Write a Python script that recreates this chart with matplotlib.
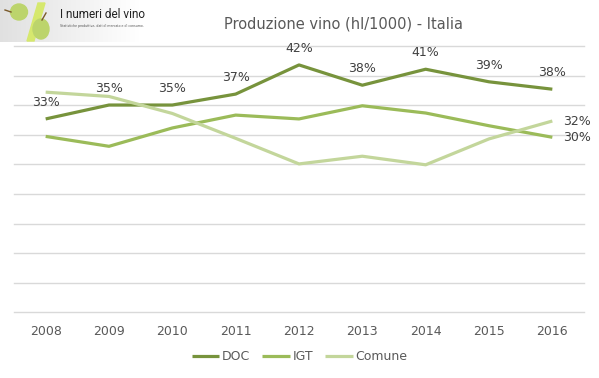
import numpy as np
import matplotlib.pyplot as plt
from matplotlib.patches import Ellipse, Polygon

anni = ['2008', '2009', '2010', '2011', '2012', '2013', '2014', '2015', '2016']
doc = [13070, 14010, 14010, 14750, 16720, 15350, 16430, 15580, 15080]
igt = [11890, 11220, 12460, 13330, 13070, 13960, 13470, 12610, 11830]
comune = [14880, 14590, 13440, 11760, 10030, 10550, 9970, 11720, 12930]
etichette_doc = ['33%', '35%', '35%', '37%', '42%', '38%', '41%', '39%', '38%']
etichetta_igt = '30%'
etichetta_comune = '32%'

col_doc = '#77933C'
col_igt = '#9BBB59'
col_comune = '#C3D69B'
grigio = '#595959'

plt.rcParams['font.family'] = ['DejaVu Sans']

fig = plt.figure(figsize=(5.99, 3.78), dpi=100)
ax = fig.add_axes([14/599, 1 - 312.3/378, 570/599, (312.3 - 46)/378])

x = np.arange(len(anni))
ax.plot(x, doc, color=col_doc, lw=2.3, label='DOC', solid_capstyle='butt')
ax.plot(x, igt, color=col_igt, lw=2.3, label='IGT', solid_capstyle='butt')
ax.plot(x, comune, color=col_comune, lw=2.3, label='Comune', solid_capstyle='butt')

# etichette percentuali
for xi, v, t in zip(x, doc, etichette_doc):
    ax.annotate(t, (xi, v), xytext=(0, 12), textcoords='offset points',
                ha='center', va='center', fontsize=9, color='#404040')
ax.annotate(etichetta_igt, (x[-1], igt[-1]), xytext=(8, 0), textcoords='offset points',
            ha='left', va='center', fontsize=9, color='#404040')
ax.annotate(etichetta_comune, (x[-1], comune[-1]), xytext=(8, 0), textcoords='offset points',
            ha='left', va='center', fontsize=9, color='#404040')

ax.set_xlim(-0.5, len(anni) - 0.5)
ax.set_ylim(0, 18000)
ax.set_yticks(np.arange(0, 18001, 2000))
ax.set_yticklabels([])
ax.set_xticks(x)
ax.set_xticklabels(anni, fontsize=9, color=grigio)
ax.tick_params(axis='both', length=0)
ax.tick_params(axis='x', pad=9)
ax.grid(axis='y', color='#D9D9D9', lw=1)
for gl in ax.get_ygridlines():
    gl.set_clip_on(False)
ax.set_axisbelow(True)
for s in ax.spines.values():
    s.set_visible(False)

fig.legend(loc='center', bbox_to_anchor=(0.5, 1 - 357/378), ncol=3, frameon=False,
           fontsize=9, handlelength=2.2, handletextpad=0.2, columnspacing=1.0,
           labelcolor=grigio)

fig.text(344/599, 1 - 24/378, 'Produzione vino (hl/1000) - Italia', ha='center', va='center',
         fontsize=10.5, color=grigio)

# logo in alto a sinistra
grad = np.linspace(0.88, 1.0, 140).reshape(1, -1)
fig.figimage(np.dstack([grad, grad, grad]).repeat(42, axis=0), xo=0, yo=378 - 42, zorder=0)
fig.add_artist(Polygon([[27/599, 1 - 41/378], [34/599, 1 - 41/378], [45/599, 1 - 3/378], [38/599, 1 - 3/378]],
                       closed=True, transform=fig.transFigure, color='#D6E86E'))
fig.add_artist(Ellipse((19/599, 1 - 12/378), 17/599, 16/378, transform=fig.transFigure, color='#BCD46C'))
fig.add_artist(Ellipse((41/599, 1 - 29/378), 16/599, 20/378, transform=fig.transFigure, color='#BCD46C'))
fig.add_artist(plt.Line2D([5/599, 11/599], [1 - 10/378, 1 - 12/378], transform=fig.transFigure, color='#7A5A2A', lw=1))
fig.add_artist(plt.Line2D([42/599, 46/599], [1 - 20/378, 1 - 13/378], transform=fig.transFigure, color='#7A5A2A', lw=1))
fig.text(60/599, 1 - 15/378, 'I numeri del vino', ha='left', va='center', fontsize=8.5,
         color='#222222', family='Roboto')
fig.text(60/599, 1 - 26/378, 'Statistiche produttive, dati di mercato e di consumo.', ha='left', va='center',
         fontsize=2.3, color='#555555')

fig.savefig('out.png', dpi=100)
